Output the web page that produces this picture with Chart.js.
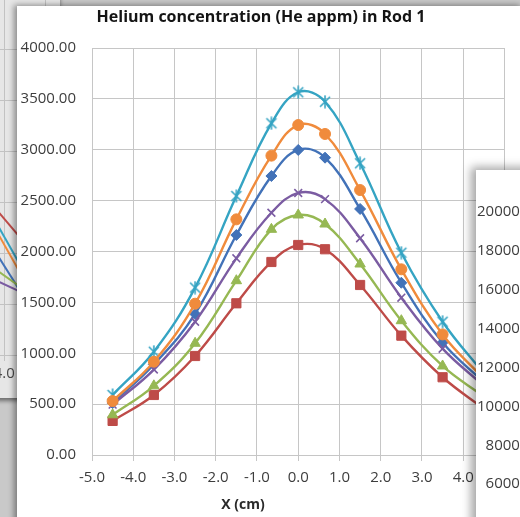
<!DOCTYPE html>
<html><head><meta charset="utf-8">
<script src="https://cdn.jsdelivr.net/npm/chart.js@4/dist/chart.umd.min.js"></script>
<style>
html,body{margin:0;padding:0;}
body{width:520px;height:517px;overflow:hidden;position:relative;background:#c9c9c9;}
#leftPanel{position:absolute;left:-400px;top:-80px;width:460px;height:478px;background:#e6e6e6;box-shadow:0 3px 4px rgba(0,0,0,0.45);}
#mainPanel{position:absolute;left:17px;top:6px;width:506px;height:520px;background:#fff;box-shadow:-3px -1px 6px rgba(0,0,0,0.4);}
#rightPanel{position:absolute;left:476px;top:170px;width:150px;height:370px;background:#fff;box-shadow:-5px -3px 9px rgba(0,0,0,0.35);}
canvas{display:block;}
</style></head>
<body>
<div id="leftPanel"><canvas id="leftChart" width="460" height="478"></canvas></div>
<div id="mainPanel"><canvas id="mainChart" width="506" height="520"></canvas></div>
<div id="rightPanel"><canvas id="rightChart" width="150" height="370"></canvas></div>
<script>
// ---- main chart data ----
const chartTitle = 'Helium concentration (He appm) in Rod 1';
const xAxisTitle = 'X (cm)';
const xValues = [-4.5, -3.5, -2.5, -1.5, -0.65, 0, 0.65, 1.5, 2.5, 3.5, 4.5];
const blueSeries   = [510, 890, 1386, 2162, 2742, 2998, 2922, 2418, 1693, 1105, 715];
const redSeries    = [335, 590, 973, 1491, 1897, 2064, 2022, 1671, 1173, 764, 455];
const greenSeries  = [395, 680, 1098, 1713, 2218, 2359, 2270, 1877, 1320, 875, 575];
const purpleSeries = [495, 840, 1310, 1933, 2381, 2575, 2515, 2130, 1546, 1045, 680];
const tealSeries   = [590, 1015, 1645, 2545, 3260, 3565, 3472, 2867, 1988, 1310, 800];
const orangeSeries = [530, 917, 1487, 2316, 2942, 3243, 3155, 2604, 1825, 1185, 750];
const seriesNames = ['Series1', 'Series2', 'Series3', 'Series4', 'Series5', 'Series6'];

// ---- partially hidden chart on the left ----
const leftX = [3.5, 4.5];
const leftBlue   = [1197, 554];
const leftRed    = [1577, 1099];
const leftGreen  = [924, 638];
const leftPurple = [789, 600];
const leftTeal   = [1519, 803];
const leftOrange = [1441, 725];

// ---- partially hidden chart on the right (axis only visible) ----
const rightYMin = 4000, rightYMax = 20000, rightYStep = 2000;

const COLORS = {blue:'#4272b8', red:'#be4b48', green:'#96b853', purple:'#7b5ca2', teal:'#35a4c3', orange:'#f08b3c'};
const FONT = '"Open Sans", "DejaVu Sans", sans-serif';
const TICK_COLOR = '#3d3d3d';
const GRID = '#c6c6c6';

function starMarker(color){
  const c = document.createElement('canvas'); c.width = 14; c.height = 14;
  const g = c.getContext('2d'); g.strokeStyle = color; g.lineWidth = 1.6;
  g.beginPath(); g.moveTo(2,2); g.lineTo(12,12); g.moveTo(12,2); g.lineTo(2,12);
  g.moveTo(7,0.5); g.lineTo(7,13.5); g.stroke();
  return c;
}
function pts(xs, ys){ return xs.map((x,i)=>({x:x, y:ys[i]})); }

const mainDefs = [
  {vals:blueSeries,   color:COLORS.blue,   style:'rectRot',  r:5.5},
  {vals:redSeries,    color:COLORS.red,    style:'rect',     r:6.5},
  {vals:greenSeries,  color:COLORS.green,  style:'triangle', r:6},
  {vals:purpleSeries, color:COLORS.purple, style:'crossRot', r:5.5},
  {vals:tealSeries,   color:COLORS.teal,   style:starMarker(COLORS.teal), r:6},
  {vals:orangeSeries, color:COLORS.orange, style:'circle',   r:5.5}
];

const xTitlePlugin = {
  id:'xTitle',
  afterDraw(chart){
    const ctx = chart.ctx; ctx.save();
    ctx.font = 'bold 14px ' + FONT; ctx.fillStyle = '#2a2a2a';
    ctx.textAlign = 'center'; ctx.textBaseline = 'middle';
    ctx.fillText(xAxisTitle, chart.chartArea.left + 151, chart.chartArea.bottom + 50);
    ctx.restore();
  }
};

new Chart(document.getElementById('mainChart'), {
  type:'line',
  data:{ datasets: mainDefs.map((d,i)=>({
    label: seriesNames[i], data: pts(xValues, d.vals),
    borderColor:d.color, backgroundColor:d.color, borderWidth:2.4,
    pointStyle:d.style, pointRadius:d.r, pointBorderColor:d.color, pointBackgroundColor:d.color,
    pointBorderWidth: (d.style==='crossRot') ? 1.6 : 1,
    tension:0.4, fill:false, order: 5 - i
  })) },
  options:{
    responsive:false, animation:false,
    layout:{padding:{left:0,right:18,top:0,bottom:0}},
    plugins:{
      legend:{display:false}, tooltip:{enabled:false},
      title:{display:true, text:chartTitle, color:'#141414',
        font:{family:FONT, size:16, weight:'bold', lineHeight:1.1}, padding:{top:3,bottom:21.4}}
    },
    scales:{
      x:{type:'linear', min:-5, max:5,
        ticks:{stepSize:1, autoSkip:false, maxRotation:0, padding:8, color:TICK_COLOR,
          font:{family:FONT,size:15}, callback:v=>Number(v).toFixed(1)},
        grid:{color:GRID, tickLength:6, drawTicks:true, tickColor:GRID},
        border:{color:GRID},
        afterFit(s){ s.height = 71; }
      },
      y:{min:0, max:4000,
        ticks:{stepSize:500, padding:16, color:TICK_COLOR,
          font:{family:FONT,size:15}, callback:v=>Number(v).toFixed(2)},
        grid:{color:GRID, drawTicks:false},
        border:{color:GRID},
        afterFit(s){ s.width = 75; }
      }
    }
  },
  plugins:[xTitlePlugin]
});

// left (background) chart
const leftDefs = [
  {vals:leftBlue,color:COLORS.blue},{vals:leftRed,color:COLORS.red},{vals:leftGreen,color:COLORS.green},
  {vals:leftPurple,color:COLORS.purple},{vals:leftTeal,color:COLORS.teal},{vals:leftOrange,color:COLORS.orange}
];
new Chart(document.getElementById('leftChart'), {
  type:'line',
  data:{ datasets:leftDefs.map((d,i)=>({label:seriesNames[i], data:pts(leftX,d.vals), borderColor:d.color,
    borderWidth:2, pointRadius:0, tension:0, fill:false, order:5-i})) },
  options:{
    responsive:false, animation:false,
    layout:{padding:{left:0,right:14,top:28,bottom:0}},
    plugins:{legend:{display:false}, tooltip:{enabled:false}, title:{display:false}},
    scales:{
      x:{type:'linear', min:-5, max:5,
        ticks:{stepSize:1, autoSkip:false, maxRotation:0, padding:4, color:'#4a4a4a',
          font:{family:FONT,size:15}, callback:v=>Number(v).toFixed(1)},
        grid:{color:'#c2c2c2', tickLength:6}, border:{color:'#c2c2c2'},
        afterFit(s){ s.height = 43; }
      },
      y:{min:0, max:4000, ticks:{stepSize:500, color:'#4a4a4a', font:{family:FONT,size:15}, callback:v=>Number(v).toFixed(2)},
        grid:{color:'#c2c2c2', drawTicks:false}, border:{color:'#c2c2c2'},
        afterFit(s){ s.width = 34; }
      }
    }
  }
});

// right (foreground, mostly off-screen) chart
new Chart(document.getElementById('rightChart'), {
  type:'line',
  data:{ datasets:[{label:'Series1', data:[], borderColor:COLORS.blue}] },
  options:{
    responsive:false, animation:false,
    layout:{padding:{left:0,right:0,top:42,bottom:0}},
    plugins:{legend:{display:false}, tooltip:{enabled:false}},
    scales:{
      x:{type:'linear', min:-5, max:5, display:false},
      y:{min:rightYMin, max:rightYMax,
        ticks:{stepSize:rightYStep, padding:8, color:TICK_COLOR, font:{family:FONT,size:15}, callback:v=>Number(v).toFixed(2)},
        grid:{color:GRID, drawTicks:false}, border:{color:GRID},
        afterFit(s){ s.width = 73; }
      }
    }
  }
});
</script>
</body></html>
